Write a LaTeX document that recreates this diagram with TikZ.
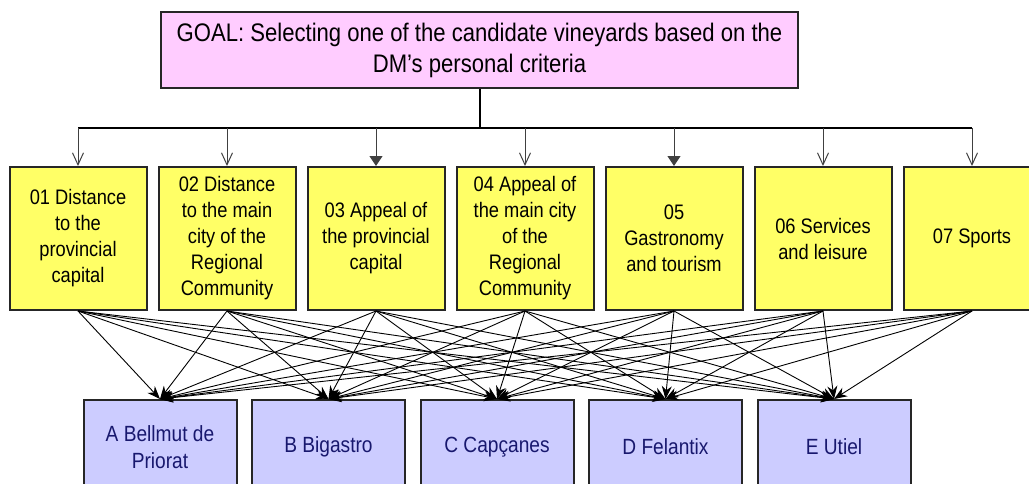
\documentclass[tikz,border=0pt]{standalone}
\usepackage{fontspec}
\setmainfont{Liberation Sans}[FakeStretch=0.87]
\usetikzlibrary{arrows.meta,positioning}

\definecolor{goalpink}{RGB}{255,204,255}
\definecolor{crityellow}{RGB}{255,255,102}
\definecolor{altblue}{RGB}{204,204,255}
\definecolor{altnavy}{RGB}{24,24,110}

\tikzset{
  goalbox/.style={draw=black!85, line width=1pt, fill=goalpink, inner sep=0pt,
    minimum width=318.5pt, minimum height=38pt, align=center,
    font=\fontsize{12.7pt}{15.5pt}\selectfont},
  critbox/.style={draw=black!85, line width=1pt, fill=crityellow, inner sep=0pt,
    minimum width=68.5pt, minimum height=71.5pt, align=center},
  altbox/.style={draw=black!85, line width=1pt, fill=altblue, inner sep=0pt,
    minimum width=76.5pt, minimum height=47pt, align=center, text=altnavy,
    font=\fontsize{11pt}{13.5pt}\selectfont},
  busline/.style={line width=1pt},
  drop/.style={line width=0.5pt, draw=black!75},
  link/.style={line width=0.45pt, -{Stealth[length=6.5pt,width=5pt]}}
}

\begin{document}
\begin{tikzpicture}[x=0.5pt, y=-0.5pt, font=\fontsize{10.5pt}{13pt}\selectfont]
  \clip (0,0) rectangle (1029,483);

  % Goal at the top
  \node[goalbox] (goal) at (479.5,50)
    {GOAL: Selecting one of the candidate vineyards based on the\\DM’s personal criteria};

  % Criteria row
  \node[critbox] (c1) at (78,238.5) {01 Distance\\to the\\provincial\\capital};
  \node[critbox] (c2) at (227,238.5) {02 Distance\\to the main\\city of the\\Regional\\Community};
  \node[critbox] (c3) at (376,238.5) {03 Appeal of\\the provincial\\capital};
  \node[critbox] (c4) at (525,238.5) {04 Appeal of\\the main city\\of the\\Regional\\Community};
  \node[critbox] (c5) at (674,238.5) {05\\Gastronomy\\and tourism};
  \node[critbox] (c6) at (823,238.5) {06 Services\\and leisure};
  \node[critbox] (c7) at (972,238.5) {07 Sports};

  % Alternatives row
  \node[altbox] (a1) at (160,447) {A Bellmut de\\Priorat};
  \node[altbox] (a2) at (328.5,447) {B Bigastro};
  \node[altbox] (a3) at (497,447) {C Capçanes};
  \node[altbox] (a4) at (665.5,447) {D Felantix};
  \node[altbox] (a5) at (834,447) {E Utiel};

  % Goal down to the bus, then one drop per criterion
  \coordinate (busL) at (78,128);
  \coordinate (busR) at (972,128);
  \draw[busline] (goal.south) -- (goal.south |- busL);
  \draw[busline] (busL) -- (busR);
  \foreach \i/\tip in {1/{Straight Barb[length=6pt,width=5.5pt]},
                       2/{Straight Barb[length=6pt,width=5.5pt]},
                       3/{Triangle[length=5pt,width=6.5pt]},
                       4/{Straight Barb[length=6pt,width=5.5pt]},
                       5/{Triangle[length=5pt,width=6.5pt]},
                       6/{Straight Barb[length=6pt,width=5.5pt]},
                       7/{Straight Barb[length=6pt,width=5.5pt]}}
    \draw[drop, -\tip] (c\i.north |- busL) -- (c\i.north);

  % Every criterion to every alternative
  \foreach \i in {1,...,7}
    \foreach \j in {1,...,5}
      \draw[link] (c\i.south) -- (a\j.north);
\end{tikzpicture}
\end{document}
